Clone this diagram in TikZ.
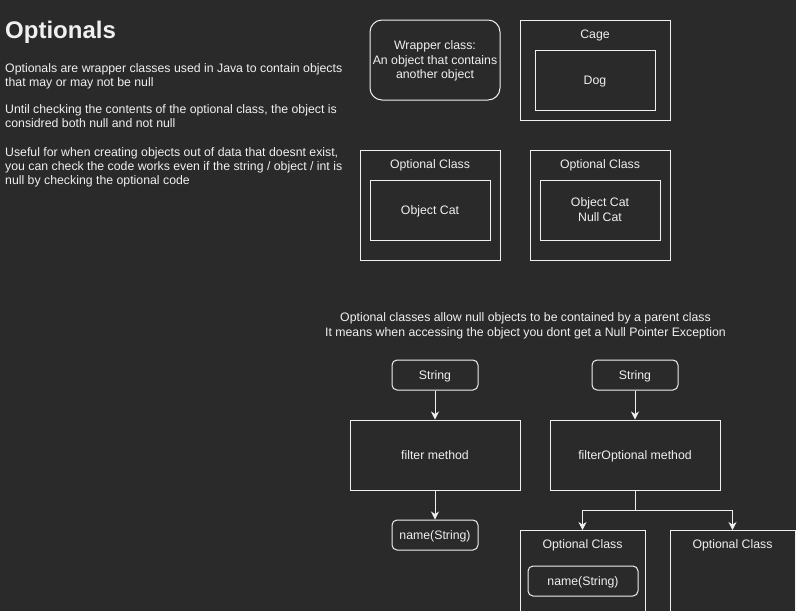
\documentclass[tikz,border=0pt]{standalone}
\usepackage{fontspec}
\setmainfont{Liberation Sans}
\usetikzlibrary{arrows.meta}
\definecolor{bgdark}{HTML}{2A2A2A}
\definecolor{inkwhite}{HTML}{F0F0F0}
\tikzset{
	oneline/.style={text height=10.9pt, text depth=2.6pt},
	twolines/.style={text height=25.3pt, text depth=2.6pt},
	threelines/.style={text height=39.7pt, text depth=2.6pt},
	box/.style={shape=rectangle, draw=inkwhite, line width=1pt, inner sep=0pt, align=center, text=inkwhite, oneline},
	roundbox/.style={box, rounded corners=5pt},
	boxtext/.style={inner sep=0pt, align=center, text=inkwhite, oneline},
	wire/.style={draw=inkwhite, line width=1pt, -{Stealth[length=8pt, width=8pt, inset=2.5pt]}},
}
\begin{document}
\begin{tikzpicture}[x=1pt, y=-1pt, font=\fontsize{12.3}{14.4}\selectfont]
	\useasboundingbox (0, 0) rectangle (796, 611);
	\clip (0, 0) rectangle (796, 611);
	\fill[bgdark] (0, 0) rectangle (796, 611);
	% Paths, nodes and wires:
	\node[anchor=west, inner sep=0pt, text=inkwhite, font=\bfseries\fontsize{24}{28}\selectfont] (title) at (5, 32.5){Optionals};
	\node[anchor=north west, inner sep=0pt, align=left, text=inkwhite] (textA) at (5, 63){Optionals are wrapper classes used in Java to contain objects\\that may or may not be null};
	\node[anchor=north west, inner sep=0pt, align=left, text=inkwhite] (textB) at (5, 104){Until checking the contents of the optional class, the object is\\considred both null and not null};
	\node[anchor=north west, inner sep=0pt, align=left, text=inkwhite] (textC) at (5, 147){Useful for when creating objects out of data that doesnt exist,\\you can check the code works even if the string / object / int is\\null by checking the optional code};
	\node[box, threelines, rounded corners=12pt, minimum width=130pt, minimum height=80pt] (wrapper) at (435, 60){Wrapper class:\\An object that contains\\another object};
	\node[box, minimum width=150pt, minimum height=100pt] (cage) at (595, 70){};
	\node[boxtext] (cageLabel) at (595, 34){Cage};
	\node[box, minimum width=120pt, minimum height=60pt] (dog) at (595, 80){Dog};
	\node[box, minimum width=140pt, minimum height=110pt] (optA) at (430, 205){};
	\node[boxtext] (optALabel) at (430, 164){Optional Class};
	\node[box, minimum width=120pt, minimum height=60pt] (catA) at (430, 210){Object Cat};
	\node[box, minimum width=140pt, minimum height=110pt] (optB) at (600, 205){};
	\node[boxtext] (optBLabel) at (600, 164){Optional Class};
	\node[box, twolines, minimum width=120pt, minimum height=60pt] (catB) at (600, 210){Object Cat\\Null Cat};
	\node[boxtext, twolines] (note) at (525.5, 325){Optional classes allow null objects to be contained by a parent class\\It means when accessing the object you dont get a Null Pointer Exception};
	\node[roundbox, minimum width=86pt, minimum height=30pt] (strA) at (435, 375){String};
	\node[box, minimum width=170pt, minimum height=70pt] (filter) at (435, 455){filter method};
	\node[roundbox, minimum width=86pt, minimum height=30pt] (nameA) at (435, 535){name(String)};
	\node[roundbox, minimum width=86pt, minimum height=30pt] (strB) at (635, 375){String};
	\node[box, minimum width=170pt, minimum height=70pt] (filterOpt) at (635, 455){filterOptional method};
	\node[box, anchor=north, minimum width=125pt, minimum height=100pt] (optC) at (582.5, 530){};
	\node[boxtext] (optCLabel) at (582.5, 544){Optional Class};
	\node[roundbox, minimum width=110pt, minimum height=30pt] (nameB) at (583, 581){name(String)};
	\node[box, anchor=north, minimum width=125pt, minimum height=100pt] (optD) at (732.5, 530){};
	\node[boxtext] (optDLabel) at (732.5, 544){Optional Class};
	\draw[wire] (strA) -- (filter);
	\draw[wire] (filter) -- (nameA);
	\draw[wire] (strB) -- (filterOpt);
	\draw[wire] (filterOpt.south) -- ++(0, 20) -| (optC.north);
	\draw[wire] (filterOpt.south) -- ++(0, 20) -| (optD.north);
\end{tikzpicture}
\end{document}
